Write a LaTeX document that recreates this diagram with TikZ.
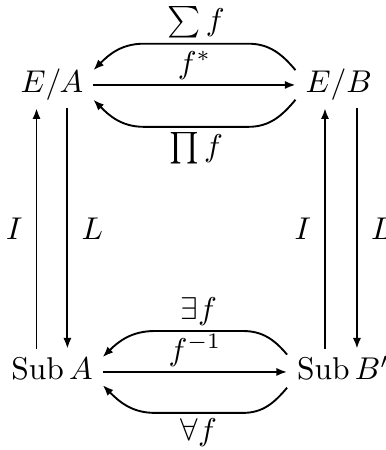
\documentclass[tikz,border=0pt]{standalone}
\usepackage{amsmath,amssymb}
\usetikzlibrary{arrows.meta}

\begin{document}
\begin{tikzpicture}[
  obj/.style={text height=7.5pt,text depth=2.5pt,inner xsep=3pt,inner ysep=2.2pt},
  arr/.style={-{Latex[length=3.4pt,width=2.6pt]},line width=0.6pt},
  lbl/.style={inner sep=1.5pt},
  sidelbl/.style={inner sep=4.2pt}]
  \useasboundingbox (0,0) rectangle (4.307,5.022);
  \node[obj] (ea) at (0.580,4.074) {$E/A$};
  \node[obj] (eb) at (3.780,4.074) {$E/B$};
  \node[obj] (suba) at (0.580,0.871) {$\mathrm{Sub}\,A$};
  \node[obj] (subb) at (3.830,0.871) {$\mathrm{Sub}\,B'$};
  % top row
  \draw[arr] (ea)--node[lbl,above]{$f^*$}(eb);
  \draw[arr] ([yshift=4.7pt]eb.west) to[out=130,in=0] ++(-15pt,8.4pt)
    --node[lbl,above]{$\sum f$} ([xshift=16pt,yshift=13.1pt]ea.east)
    to[out=180,in=45] ([yshift=4.7pt]ea.east);
  \draw[arr] ([yshift=-4.7pt]eb.west) to[out=-130,in=0] ++(-15pt,-8.6pt)
    --node[lbl,below]{$\prod f$} ([xshift=16pt,yshift=-13.3pt]ea.east)
    to[out=180,in=-45] ([yshift=-4.7pt]ea.east);
  % bottom row
  \draw[arr] (suba)--node[lbl,above]{$f^{-1}$}(subb);
  \draw[arr] ([yshift=5.5pt]subb.west) to[out=130,in=0] ++(-14pt,7.5pt)
    --node[lbl,above]{$\exists f$} ([xshift=16.5pt,yshift=13pt]suba.east)
    to[out=180,in=45] ([yshift=4.7pt]suba.east);
  \draw[arr] ([yshift=-5pt]subb.west) to[out=-130,in=0] ++(-14pt,-8pt)
    --node[lbl,below]{$\forall f$} ([xshift=16.5pt,yshift=-13pt]suba.east)
    to[out=180,in=-45] ([yshift=-4.2pt]suba.east);
  % vertical pairs
  \draw[arr] ([xshift=-4.9pt]suba.north)--node[sidelbl,left]{$I$}([xshift=-4.9pt]ea.south);
  \draw[arr] ([xshift=4.9pt]ea.south)--node[sidelbl,right]{$L$}([xshift=4.9pt]suba.north);
  \draw[arr] ([xshift=-4.35pt]eb.south |- subb.north)--node[sidelbl,left]{$I$}([xshift=-4.35pt]eb.south);
  \draw[arr] ([xshift=5.8pt]eb.south)--node[sidelbl,right]{$L$}([xshift=5.8pt]eb.south |- subb.north);
\end{tikzpicture}
\end{document}
